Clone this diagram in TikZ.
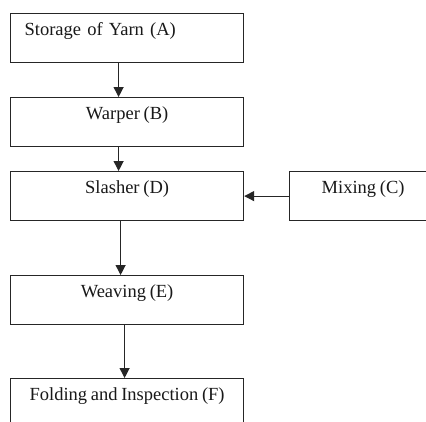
\documentclass[tikz,border=0pt]{standalone}
\usepackage{fontspec}
\setmainfont{Liberation Serif}[WordSpace=0.8]
\usetikzlibrary{arrows.meta,positioning}
\begin{document}
\begin{tikzpicture}[x=1pt,y=-1pt,
  stepbox/.style={draw=black!85, line width=1.2pt, rectangle, anchor=north west,
    minimum width=233pt, inner xsep=0pt, inner ysep=10pt,
    text height=12pt, text depth=17pt, align=center,
    font=\fontsize{18.5pt}{20pt}\selectfont, text=black!90},
  flow/.style={draw=black!85, line width=1.2pt, -{Triangle[length=10pt,width=10pt]}}]
\useasboundingbox (0,0) rectangle (426,421);
\clip (0,0) rectangle (426,421);
\fill[white] (0,0) rectangle (426,421);
\node[stepbox, text width=205pt, inner xsep=14pt, align=left] (A) at (10,13) {Storage of Yarn (A)};
\node[stepbox] (B) at (10,97) {Warper (B)};
\node[stepbox] (D) at (10,171) {Slasher (D)};
\node[stepbox, minimum width=147pt] (C) at (289,171) {Mixing (C)};
\node[stepbox] (E) at (10,275) {Weaving (E)};
\node[stepbox] (F) at (10,378) {Folding and Inspection (F)};
\draw[flow] ([xshift=-8.5pt]A.south) -- ([xshift=-8.5pt]B.north);
\draw[flow] ([xshift=-8.5pt]B.south) -- ([xshift=-8.5pt]D.north);
\draw[flow] ([xshift=-6.5pt]D.south) -- ([xshift=-6.5pt]E.north);
\draw[flow] ([xshift=-2.5pt]E.south) -- ([xshift=-2.5pt]F.north);
\draw[flow] (C.west) -- (D.east);
\end{tikzpicture}
\end{document}
